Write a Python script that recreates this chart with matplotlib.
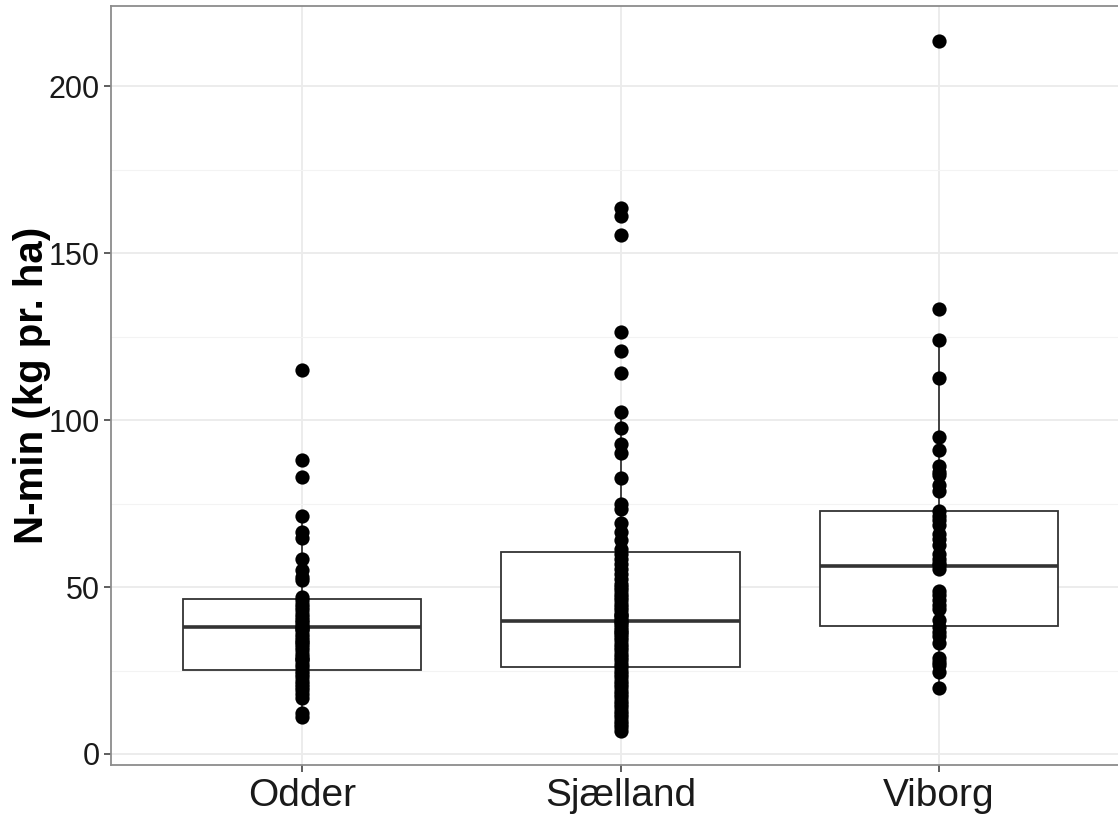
import matplotlib
matplotlib.use("Agg")
import matplotlib.pyplot as plt
from matplotlib.ticker import MultipleLocator

plt.rcParams['font.family'] = ['Liberation Sans', 'DejaVu Sans']

# Data
sites = ['Odder', 'Sjælland', 'Viborg']

odder = [115, 88, 83, 71.4, 66.6, 64.6, 58.3, 55.1, 53.1, 52.1, 47.1, 46, 45, 44,
         43, 42, 41, 40, 39.5, 38.5, 38, 37.5, 37, 36, 35, 34, 33.5, 33, 32, 31,
         30, 29, 28.5, 28, 27, 26, 25, 24, 23, 22, 21, 20, 19.2, 18, 16.7, 12.2, 11.2]

sjaelland = [163.5, 161, 155.3, 126.4, 120.7, 114.2, 102.4, 97.5, 92.7, 90.0, 82.6,
             75.0, 73.4, 69.2, 66.6, 64, 61.3, 60, 58.5, 57, 55.5, 54, 52.5, 51, 50,
             49, 48, 47, 46, 45, 44, 43, 42, 41.5, 41, 40, 39.5, 39, 38, 37, 36.5,
             36, 35, 34, 33, 32, 31, 30, 29, 28, 27, 26, 25, 24, 23, 22, 21, 20, 19,
             18, 17, 16, 15, 14, 13, 12, 11, 10, 9, 8, 6.9]

viborg = [213.6, 133.3, 123.9, 112.6, 94.8, 91.0, 86.1, 84.5, 83.4, 80.7, 78.7,
          72.7, 71.4, 70, 68.7, 66.0, 64.5, 62.7, 60.0, 58.5, 57.3, 56.5, 55.3,
          48.7, 47.5, 46.0, 44.5, 43.3, 40.0, 38.0, 36.5, 35.3, 33.3, 28.6, 27.5,
          26.6, 24.6, 19.9]

# box statistics
q1 = [25.1, 26.1, 38.4]
med = [37.9, 39.8, 56.4]
q3 = [46.4, 60.6, 72.7]
whis_lo = [11.2, 6.9, 19.9]
whis_hi = [71.4, 102.4, 123.9]

# Plotting
fig = plt.figure(figsize=(11.18, 8.15), dpi=100)
# the panel runs slightly past the right edge of the picture, as in the original
ax = fig.add_axes([111 / 1118, 50 / 815, 1019 / 1118, 759 / 815])

stats = []
for i, name in enumerate(sites):
    stats.append({'label': name, 'q1': q1[i], 'med': med[i], 'q3': q3[i],
                  'whislo': whis_lo[i], 'whishi': whis_hi[i], 'fliers': []})

ax.bxp(stats, positions=[1, 2, 3], widths=0.75, showfliers=False, showcaps=False,
       patch_artist=True,
       boxprops=dict(facecolor='white', edgecolor='#333333', linewidth=1.3),
       whiskerprops=dict(color='#333333', linewidth=1.3),
       medianprops=dict(color='#333333', linewidth=2.6),
       zorder=2)

for i, vals in enumerate([odder, sjaelland, viborg]):
    ax.scatter([i + 1] * len(vals), vals, s=105, color='black', linewidths=0, zorder=3)

ax.set_xlim(0.4, 3.6)
ax.set_ylim(-3.3, 224)
ax.yaxis.set_major_locator(MultipleLocator(50))
ax.yaxis.set_minor_locator(MultipleLocator(25))
ax.set_xticks([1, 2, 3])
ax.set_xticklabels(sites)

ax.grid(True, which='major', color='#EBEBEB', linewidth=1.3, zorder=0)
ax.grid(True, which='minor', axis='y', color='#F3F3F3', linewidth=0.8, zorder=0)
ax.set_axisbelow(True)

for side in ['left', 'bottom', 'top', 'right']:
    ax.spines[side].set_color('#8C8C8C')
    ax.spines[side].set_linewidth(1.3)

ax.tick_params(axis='both', which='major', length=5, width=1.1, color='#333333')
ax.tick_params(axis='y', which='minor', length=0)
ax.tick_params(axis='y', labelsize=22, pad=3, labelcolor='#1A1A1A')
ax.tick_params(axis='x', labelsize=28, pad=4, labelcolor='#1A1A1A')

ax.set_ylabel('N-min (kg pr. ha)', fontsize=29, fontweight='bold', labelpad=-2)

fig.savefig('out.png', dpi=100)
